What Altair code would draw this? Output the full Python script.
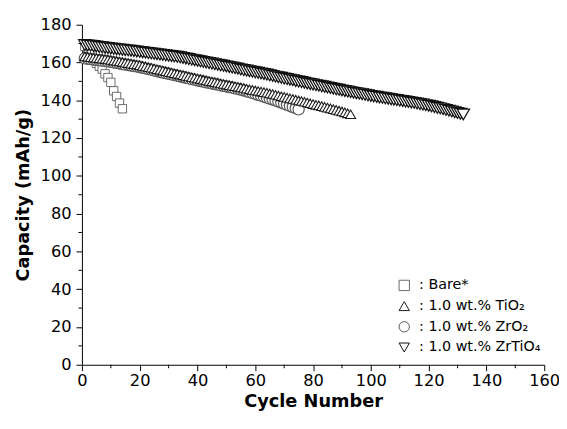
import altair as alt
import pandas as pd

# ---------------- data ----------------
series_names = ["Bare*", "1.0 wt.% TiO₂", "1.0 wt.% ZrO₂", "1.0 wt.% ZrTiO₄"]
series_shapes = ["square", "triangle-up", "circle", "triangle-down"]
series_strokes = ["#6a6a6a", "#1a1a1a", "#555555", "#111111"]
series_sizes = [72, 160, 100, 165]
series_widths = [1.0, 1.25, 1.0, 1.25]

bare = [168.5, 166.5, 164.5, 162.0, 159.5, 158.0, 156.5, 154.0, 152.0, 149.5,
        145.0, 142.0, 138.5, 135.5]

tio2 = [163.2, 163.0, 162.8, 162.6, 162.4, 162.2, 162.0, 161.8, 161.6, 161.3,
        161.0, 160.8, 160.5, 160.2, 159.9, 159.7, 159.4, 159.1, 158.9, 158.6,
        158.2, 157.9, 157.5, 157.2, 156.8, 156.4, 156.1, 155.7, 155.4, 155.0,
        154.7, 154.3, 154.0, 153.6, 153.3, 152.9, 152.6, 152.2, 151.9, 151.5,
        151.2, 150.9, 150.5, 150.2, 149.9, 149.6, 149.3, 148.9, 148.6, 148.3,
        148.0, 147.7, 147.4, 147.1, 146.8, 146.5, 146.1, 145.8, 145.5, 145.2,
        144.9, 144.6, 144.3, 144.0, 143.6, 143.3, 142.9, 142.5, 142.1, 141.8,
        141.4, 141.0, 140.7, 140.3, 139.9, 139.6, 139.2, 138.8, 138.4, 138.0,
        137.6, 137.3, 136.9, 136.5, 136.1, 135.7, 135.3, 134.9, 134.5, 134.1,
        133.6, 133.1, 132.6]

zro2 = [162.2, 162.0, 161.8, 161.6, 161.4, 161.2, 161.0, 160.8, 160.6, 160.3,
        160.0, 159.8, 159.5, 159.2, 158.9, 158.7, 158.4, 158.1, 157.9, 157.6,
        157.2, 156.9, 156.5, 156.2, 155.8, 155.4, 155.1, 154.7, 154.4, 154.0,
        153.7, 153.3, 153.0, 152.6, 152.3, 151.9, 151.6, 151.2, 150.9, 150.5,
        150.2, 149.9, 149.5, 149.2, 148.9, 148.6, 148.3, 147.9, 147.6, 147.3,
        147.0, 146.7, 146.3, 146.0, 145.6, 145.2, 144.8, 144.3, 143.9, 143.4,
        142.9, 142.4, 141.9, 141.4, 140.9, 140.4, 139.9, 139.3, 138.8, 138.2,
        137.6, 137.0, 136.4, 135.8, 135.2]

zrtio4 = [169.2, 169.0, 168.9, 168.7, 168.5, 168.2, 168.0, 167.8, 167.6, 167.4,
          167.2, 167.0, 166.9, 166.7, 166.5, 166.4, 166.2, 166.0, 165.8, 165.6,
          165.4, 165.2, 165.0, 164.8, 164.6, 164.4, 164.2, 164.0, 163.8, 163.6,
          163.4, 163.2, 163.0, 162.7, 162.4, 162.1, 161.8, 161.5, 161.2, 160.9,
          160.6, 160.3, 160.0, 159.7, 159.4, 159.1, 158.8, 158.5, 158.2, 157.9,
          157.6, 157.3, 157.0, 156.7, 156.3, 156.0, 155.7, 155.4, 155.1, 154.8,
          154.5, 154.2, 153.9, 153.6, 153.2, 152.9, 152.5, 152.2, 151.9, 151.5,
          151.2, 150.9, 150.6, 150.2, 149.9, 149.6, 149.3, 148.9, 148.6, 148.3,
          148.0, 147.7, 147.4, 147.1, 146.8, 146.5, 146.1, 145.8, 145.5, 145.2,
          144.9, 144.6, 144.3, 144.0, 143.7, 143.5, 143.2, 142.9, 142.6, 142.3,
          142.0, 141.8, 141.5, 141.3, 141.0, 140.8, 140.5, 140.3, 140.1, 139.8,
          139.6, 139.3, 139.1, 138.8, 138.6, 138.3, 138.0, 137.7, 137.4, 137.1,
          136.8, 136.4, 136.0, 135.7, 135.3, 134.9, 134.5, 134.1, 133.7, 133.3,
          132.9, 132.5]

x_ticks = [0, 20, 40, 60, 80, 100, 120, 140, 160]
x_minor = [10, 30, 50, 70, 90, 110, 130, 150]
y_ticks = [0, 20, 40, 60, 80, 100, 120, 140, 160, 180]
y_minor = [10, 30, 50, 70, 90, 110, 130, 150, 170]

# ---------------- tables (draw order: bare, ZrO2, TiO2, ZrTiO4) ----------------
rows = []
for name, vals in [(series_names[0], bare), (series_names[2], zro2),
                   (series_names[1], tio2), (series_names[3], zrtio4)]:
    for i, v in enumerate(vals):
        rows.append({"cycle": i + 1, "capacity": v, "series": name})
df = pd.DataFrame(rows)
minor_x_df = pd.DataFrame({"cycle": x_minor})
minor_y_df = pd.DataFrame({"capacity": y_minor})
legend_df = pd.DataFrame({
    "series": series_names,
    "row": list(range(len(series_names))),
    "label": [":  " + n for n in series_names],
})

FONT = "DejaVu Sans"
W, H = 469, 345

x_scale = alt.Scale(domain=[0, 160], nice=False, zero=False)
y_scale = alt.Scale(domain=[0, 180], nice=False, zero=False)
shape_scale = alt.Scale(domain=series_names, range=series_shapes)
stroke_scale = alt.Scale(domain=series_names, range=series_strokes)

x_axis = alt.Axis(values=x_ticks, title="Cycle Number", format="d",
                  tickSize=6, labelPadding=2, titlePadding=4, labelFlush=False)
y_axis = alt.Axis(values=y_ticks, title="Capacity (mAh/g)", format="d",
                  tickSize=6, labelPadding=5, titlePadding=8, labelFlush=False)

points = alt.Chart(df).mark_point(
    filled=True, fill="white", fillOpacity=1, opacity=1
).encode(
    x=alt.X("cycle:Q", scale=x_scale, axis=x_axis),
    y=alt.Y("capacity:Q", scale=y_scale, axis=y_axis),
    shape=alt.Shape("series:N", scale=shape_scale, legend=None),
    stroke=alt.Stroke("series:N", scale=stroke_scale, legend=None),
    size=alt.Size("series:N", scale=alt.Scale(domain=series_names, range=series_sizes), legend=None),
    strokeWidth=alt.StrokeWidth("series:N", scale=alt.Scale(domain=series_names, range=series_widths), legend=None),
)

xminor = alt.Chart(minor_x_df).mark_rule(color="black", strokeWidth=1).encode(
    x=alt.X("cycle:Q", scale=x_scale, axis=x_axis),
    y=alt.value(H), y2=alt.value(H + 3.5),
)
yminor = alt.Chart(minor_y_df).mark_rule(color="black", strokeWidth=1).encode(
    y=alt.Y("capacity:Q", scale=y_scale, axis=y_axis),
    x=alt.value(0), x2=alt.value(-3.5),
)

main = alt.layer(points, xminor, yminor)

# in-plot legend (bottom right, no frame)
row_scale = alt.Scale(domain=[0, 3], range=[264.5, 327.5])
legend_sym = alt.Chart(legend_df).mark_point(
    filled=True, fill="white", fillOpacity=1, strokeWidth=1, opacity=1, size=110
).encode(
    x=alt.value(327),
    y=alt.Y("row:Q", scale=row_scale, axis=None),
    shape=alt.Shape("series:N", scale=shape_scale, legend=None),
    stroke=alt.Stroke("series:N", scale=stroke_scale, legend=None),
)
legend_txt = alt.Chart(legend_df).mark_text(
    align="left", baseline="middle", font=FONT, fontSize=14.5, color="black"
).encode(
    x=alt.value(342),
    y=alt.Y("row:Q", scale=row_scale, axis=None),
    text="label:N",
)
legend = alt.layer(legend_sym, legend_txt)

chart = alt.layer(main, legend).resolve_scale(y="independent").properties(
    width=W, height=H,
    autosize=alt.AutoSizeParams(type="none"),
    padding={"left": 75, "top": 14, "right": 15, "bottom": 46},
).configure_view(stroke=None).configure_axis(
    grid=False, domainColor="black", tickColor="black", labelColor="black",
    titleColor="black", labelFont=FONT, titleFont=FONT, labelFontSize=16.5,
    titleFontSize=18, titleFontWeight="bold", domainWidth=1, tickWidth=1,
)

chart.save("out.html", embed_options={"renderer": "svg", "actions": False})
